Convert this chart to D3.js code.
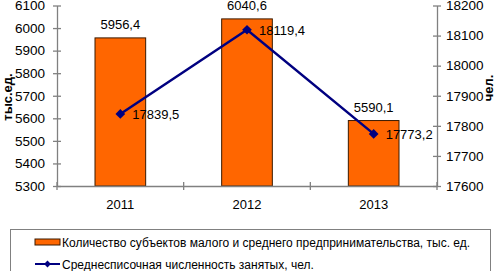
<!DOCTYPE html>
<html>
<head>
<meta charset="utf-8">
<script src="https://cdn.jsdelivr.net/npm/d3@7"></script>
<style>
body { margin: 0; background: #fff; }
text { font-family: "Liberation Sans", Arial, sans-serif; fill: #000; }
</style>
</head>
<body>
<div id="main"></div>
<script>
const W = 500;
const H = 271;

// data
var years = ["2011", "2012", "2013"];
var subjects = [5956.4, 6040.6, 5590.1];
var employed = [17839.5, 18119.4, 17773.2];
var leftTicks = [5300, 5400, 5500, 5600, 5700, 5800, 5900, 6000, 6100];
var rightTicks = [17600, 17700, 17800, 17900, 18000, 18100, 18200];
var legendLabels = ["Количество субъектов малого и среднего предпринимательства, тыс. ед.",
                    "Среднесписочная численность занятых, чел."];

var ctx = {
    left: 57, right: 437, top: 5.5, bottom: 186,
    barColor: "#FF6600",
    lineColor: "#000080",
    axisColor: "#808080",
};

var fmt = function(v){ return v.toFixed(1).replace(".", ","); };

var createViz = function(){
    var svg = d3.select("#main").append("svg")
                .attr("width", W).attr("height", H);

    var x = d3.scaleBand().domain(years).range([ctx.left, ctx.right]);
    var yL = d3.scaleLinear().domain([5300, 6100]).range([ctx.bottom, ctx.top]);
    var yR = d3.scaleLinear().domain([17600, 18200]).range([ctx.bottom, ctx.top]);
    var bw = x.bandwidth() * 0.4;

    // bars
    svg.selectAll("rect.bar")
       .data(subjects)
       .enter().append("rect")
       .attr("class", "bar")
       .attr("x", (d, i) => x(years[i]) + x.bandwidth()/2 - bw/2)
       .attr("y", d => yL(d))
       .attr("width", bw)
       .attr("height", d => ctx.bottom - yL(d))
       .style("fill", ctx.barColor)
       .style("stroke", "#3a1a00")
       .style("stroke-width", 1);

    // axes
    var axL = svg.append("g").attr("transform", "translate(" + ctx.left + ",0)")
                 .call(d3.axisLeft(yL).tickValues(leftTicks).tickFormat(d3.format("d"))
                         .tickSize(0).tickPadding(12));
    axL.selectAll(".tick line").remove();
    axL.selectAll(".tick").append("line").attr("x1", -4).attr("x2", 4);
    var axR = svg.append("g").attr("transform", "translate(" + ctx.right + ",0)")
                 .call(d3.axisRight(yR).tickValues(rightTicks).tickFormat(d3.format("d"))
                         .tickSize(0).tickPadding(9));
    axR.selectAll(".tick line").remove();
    axR.selectAll(".tick").append("line").attr("x1", -4).attr("x2", 4);
    var axB = svg.append("g").attr("transform", "translate(0," + ctx.bottom + ")")
                 .call(d3.axisBottom(x).tickSize(0).tickPadding(14));
    axB.selectAll(".tick line").remove();
    svg.selectAll("line.xtick")
       .data([0, 1, 2, 3])
       .enter().append("line")
       .attr("class", "xtick")
       .attr("x1", i => ctx.left + i * x.step()).attr("x2", i => ctx.left + i * x.step())
       .attr("y1", ctx.bottom - 4).attr("y2", ctx.bottom + 4);
    svg.selectAll(".domain, .tick line, line.xtick")
       .style("stroke", ctx.axisColor).style("stroke-width", 1.3);
    svg.selectAll(".tick text")
       .style("font-family", "'Liberation Sans', Arial, sans-serif")
       .style("font-size", "13.5px").style("fill", "#000");
    axB.selectAll(".tick text").style("font-size", "13px");

    // line
    var cx = i => x(years[i]) + x.bandwidth()/2;
    var line = d3.line().x((d, i) => cx(i)).y(d => yR(d));
    svg.append("path")
       .datum(employed)
       .attr("d", line)
       .style("fill", "none")
       .style("stroke", ctx.lineColor)
       .style("stroke-width", 2.5);
    svg.selectAll("path.mk")
       .data(employed)
       .enter().append("path")
       .attr("class", "mk")
       .attr("d", d3.symbol().type(d3.symbolDiamond2).size(60))
       .attr("transform", (d, i) => "translate(" + cx(i) + "," + yR(d) + ")")
       .style("fill", ctx.lineColor);

    // labels
    svg.selectAll("text.bl")
       .data(subjects)
       .enter().append("text")
       .attr("class", "bl")
       .attr("x", (d, i) => cx(i))
       .attr("y", d => yL(d) - 9)
       .attr("text-anchor", "middle")
       .style("font-size", "13px")
       .text(fmt);
    svg.selectAll("text.ll")
       .data(employed)
       .enter().append("text")
       .attr("class", "ll")
       .attr("x", (d, i) => cx(i) + 12)
       .attr("y", d => yR(d) + 5)
       .style("font-size", "13px")
       .text(fmt);

    // axis titles
    svg.append("text")
       .attr("transform", "translate(12,97) rotate(-90)")
       .attr("text-anchor", "middle")
       .style("font-size", "13px").style("font-weight", "bold")
       .text("тыс.ед.");
    svg.append("text")
       .attr("transform", "translate(493,88) rotate(-90)")
       .attr("text-anchor", "middle")
       .style("font-size", "13px").style("font-weight", "bold")
       .text("чел.");

    // legend
    svg.append("rect")
       .attr("x", 10.5).attr("y", 229.5).attr("width", 480).attr("height", 50)
       .style("fill", "none").style("stroke", "#808080");
    var lg = svg.append("g");
    lg.append("rect")
      .attr("x", 35).attr("y", 239).attr("width", 25).attr("height", 6)
      .style("fill", ctx.barColor).style("stroke", "#3a1a00");
    lg.append("line")
      .attr("x1", 35).attr("x2", 60).attr("y1", 264).attr("y2", 264)
      .style("stroke", ctx.lineColor).style("stroke-width", 2);
    lg.append("path")
      .attr("d", d3.symbol().type(d3.symbolDiamond2).size(30))
      .attr("transform", "translate(47.5,264)")
      .style("fill", ctx.lineColor);
    lg.selectAll("text")
      .data(legendLabels)
      .enter().append("text")
      .attr("x", 62)
      .attr("y", (d, i) => 246.5 + i * 22)
      .style("font-size", "12px")
      .text(d => d);
};

createViz();
</script>
</body>
</html>
